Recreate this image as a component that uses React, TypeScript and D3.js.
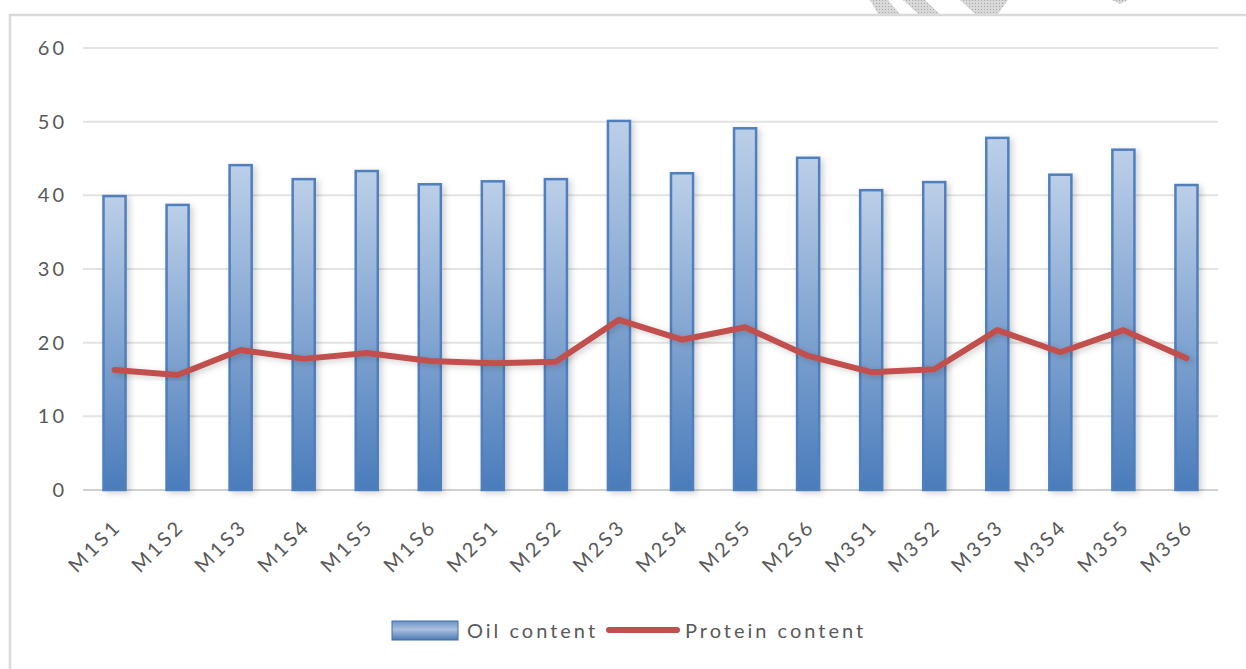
import React, { useEffect, useRef } from "react";
import * as d3 from "d3";

// sample names, left to right
const samples = [
  "M1S1", "M1S2", "M1S3", "M1S4", "M1S5", "M1S6",
  "M2S1", "M2S2", "M2S3", "M2S4", "M2S5", "M2S6",
  "M3S1", "M3S2", "M3S3", "M3S4", "M3S5", "M3S6",
];
// bars
const oilContent = [
  39.9, 38.7, 44.1, 42.2, 43.3, 41.5,
  41.9, 42.2, 50.1, 43.0, 49.1, 45.1,
  40.7, 41.8, 47.8, 42.8, 46.2, 41.4,
];
// line
const proteinContent = [
  16.3, 15.6, 19.0, 17.8, 18.6, 17.5,
  17.2, 17.4, 23.1, 20.4, 22.1, 18.2,
  16.0, 16.4, 21.7, 18.7, 21.7, 17.9,
];
const yTicks = [0, 10, 20, 30, 40, 50, 60];
const seriesNames = ["Oil content", "Protein content"];

const W = 1246;
const H = 669;
const FONT = "Lato, 'Open Sans', sans-serif";
const SPACING = 3; // the original text is drawn wide

export default function App() {
  const svgRef = useRef<SVGSVGElement | null>(null);

  useEffect(() => {
    const svg = d3.select(svgRef.current);
    svg.selectAll("*").remove();

    const left = 83, right = 1218, top = 48, bottom = 490;

    const x = d3.scaleBand().domain(samples).range([left, right]).paddingInner(0.65).paddingOuter(0.325);
    const y = d3.scaleLinear().domain([0, 60]).range([bottom, top]);

    const defs = svg.append("defs");
    const grad = defs.append("linearGradient").attr("id", "barGrad")
      .attr("x1", 0).attr("y1", 0).attr("x2", 0).attr("y2", 1);
    grad.append("stop").attr("offset", "0%").attr("stop-color", "#bccfe8");
    grad.append("stop").attr("offset", "100%").attr("stop-color", "#4a7cbb");

    const lgGrad = defs.append("linearGradient").attr("id", "legGrad")
      .attr("x1", 0).attr("y1", 0).attr("x2", 0).attr("y2", 1);
    lgGrad.append("stop").attr("offset", "0%").attr("stop-color", "#6c93c8");
    lgGrad.append("stop").attr("offset", "45%").attr("stop-color", "#a9bfdd");
    lgGrad.append("stop").attr("offset", "100%").attr("stop-color", "#4d7ab5");

    const shadow = defs.append("filter").attr("id", "shadow")
      .attr("x", "-50%").attr("y", "-10%").attr("width", "200%").attr("height", "120%");
    shadow.append("feDropShadow").attr("dx", 3).attr("dy", 2).attr("stdDeviation", 3)
      .attr("flood-color", "#000").attr("flood-opacity", 0.18);

    const pat = defs.append("pattern").attr("id", "dots").attr("width", 3).attr("height", 3)
      .attr("patternUnits", "userSpaceOnUse");
    pat.append("rect").attr("width", 3).attr("height", 3).attr("fill", "#d8d8d8");
    pat.append("rect").attr("width", 1).attr("height", 1).attr("fill", "#a8a8a8");

    // watermark remnants above the frame
    const wm = svg.append("g").attr("fill", "url(#dots)");
    wm.append("polygon").attr("points", "870,0 888,0 900,14 878,14");
    wm.append("polygon").attr("points", "903,0 925,0 940,14 918,14");
    wm.append("polygon").attr("points", "945,0 1008,0 998,14 975,14 960,0");
    wm.append("polygon").attr("points", "1112,0 1128,0 1120,4");

    // frame
    svg.append("rect").attr("x", 10).attr("y", 15).attr("width", 1260).attr("height", 700)
      .attr("fill", "#fff").attr("stroke", "#d9d9d9").attr("stroke-width", 2.5);

    // gridlines
    svg.append("g").selectAll("line").data(yTicks).join("line")
      .attr("x1", left).attr("x2", right)
      .attr("y1", d => y(d)).attr("y2", d => y(d))
      .attr("stroke", d => (d === 0 ? "#d0d0d0" : "#e3e3e3")).attr("stroke-width", 2);

    // y labels
    svg.append("g").selectAll("text").data(yTicks).join("text")
      .attr("x", 64 + SPACING).attr("y", d => y(d)).attr("dy", "0.35em")
      .attr("text-anchor", "end").attr("font-family", FONT).attr("font-size", 20)
      .attr("letter-spacing", SPACING)
      .attr("fill", "#595959").text(d => d);

    // bars
    svg.append("g").selectAll("rect").data(oilContent).join("rect")
      .attr("x", (d, i) => x(samples[i])!)
      .attr("y", d => y(d))
      .attr("width", x.bandwidth())
      .attr("height", d => y(0) - y(d))
      .attr("fill", "url(#barGrad)")
      .attr("stroke", "#4f7fbc").attr("stroke-width", 2.5)
      .attr("filter", "url(#shadow)");

    // protein line
    const line = d3.line<number>()
      .x((d, i) => x(samples[i])! + x.bandwidth() / 2)
      .y(d => y(d));
    svg.append("path").datum(proteinContent)
      .attr("d", line)
      .attr("fill", "none").attr("stroke", "#c0504d").attr("stroke-width", 6)
      .attr("stroke-linejoin", "round").attr("stroke-linecap", "round")
      .attr("filter", "url(#shadow)");

    // x labels, rotated
    svg.append("g").selectAll("text").data(samples).join("text")
      .attr("transform", d => `translate(${x(d)! + x.bandwidth() / 2 + 8},${bottom + 38}) rotate(-45)`)
      .attr("text-anchor", "end")
      .attr("font-family", FONT).attr("font-size", 20).attr("letter-spacing", SPACING)
      .attr("fill", "#595959").text(d => d);

    // legend
    const lg = svg.append("g");
    lg.append("rect").attr("x", 392).attr("y", 621).attr("width", 66).attr("height", 19)
      .attr("fill", "url(#legGrad)").attr("stroke", "#3f6fa8").attr("stroke-width", 1);
    lg.append("text").attr("x", 467).attr("y", 631).attr("dy", "0.35em")
      .attr("font-family", FONT).attr("font-size", 20).attr("letter-spacing", SPACING)
      .attr("fill", "#595959").text(seriesNames[0]);
    lg.append("line").attr("x1", 609).attr("x2", 677).attr("y1", 630).attr("y2", 630)
      .attr("stroke", "#c0504d").attr("stroke-width", 6).attr("stroke-linecap", "round");
    lg.append("text").attr("x", 685).attr("y", 631).attr("dy", "0.35em")
      .attr("font-family", FONT).attr("font-size", 20).attr("letter-spacing", SPACING)
      .attr("fill", "#595959").text(seriesNames[1]);
  }, []);

  return (
    <svg ref={svgRef} width={W} height={H}
      style={{ position: "absolute", left: 0, top: 0, background: "#fff" }} />
  );
}
